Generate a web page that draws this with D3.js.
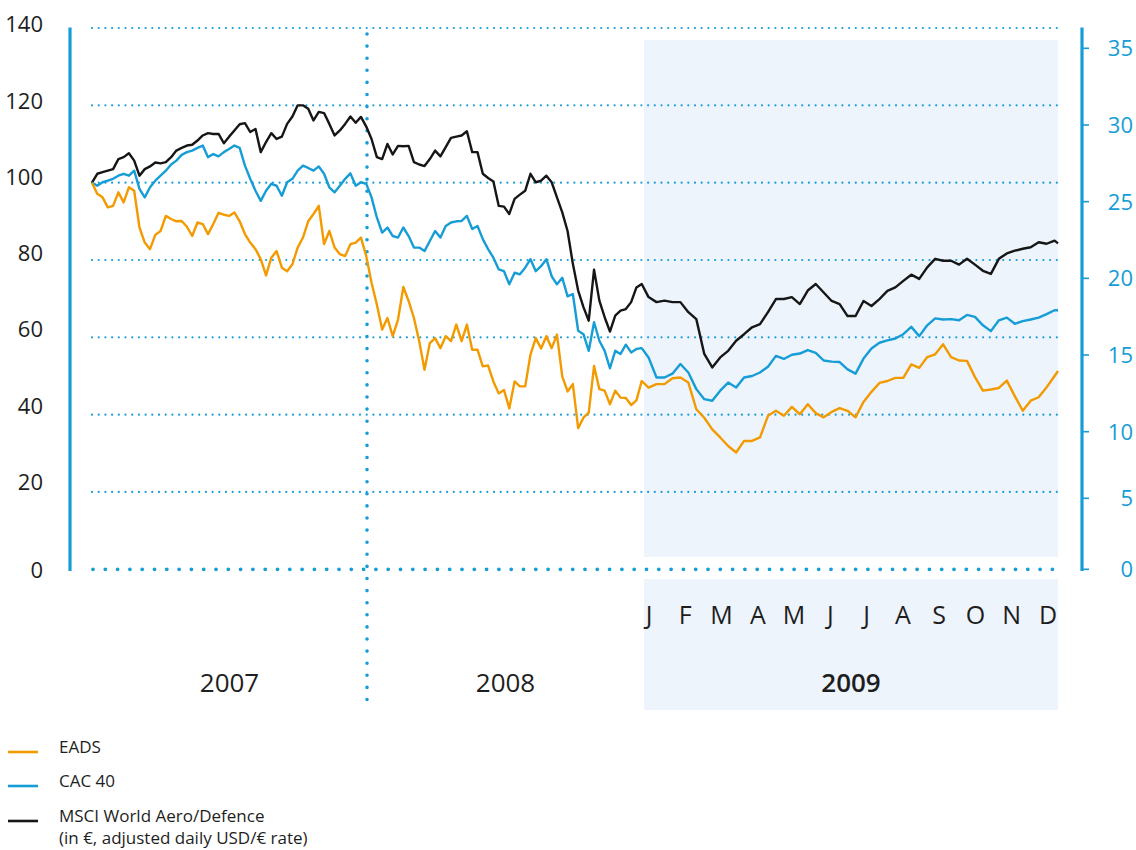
<!DOCTYPE html>
<html>
<head>
<meta charset="utf-8">
<script src="https://cdn.jsdelivr.net/npm/d3@7"></script>
<style>
  html, body { margin: 0; padding: 0; background: #fff; }
  svg { display: block; }
  text { font-family: 'Open Sans', 'Noto Sans', sans-serif; }
</style>
</head>
<body>
<svg id="chart" width="1136" height="850"></svg>
<script>
// ---------- DATA ----------
// weekly observations from 2007-01-01, plus the last trading day of 2009
const seriesStart = "2007-01-01";
const seriesEnd = "2009-12-31";

const msciValues = [
  100, 102.3, 102.7, 103.1, 103.5, 106.1, 106.6, 107.6, 105.7, 101.8,
  103.5, 104.2, 105.2, 105.0, 105.3, 106.6, 108.3, 109.0, 109.6, 109.8,
  110.9, 112.2, 112.8, 112.6, 112.6, 110.2, 111.9, 113.5, 115.1, 115.4,
  113.1, 113.9, 107.9, 110.5, 112.8, 111.3, 111.9, 115.2, 117.1, 120.0,
  120.0, 119.1, 116.1, 118.3, 118.0, 115.2, 112.2, 113.5, 115.2, 117.1,
  115.5, 117.0, 114.5, 111.3, 106.6, 106.1, 110.0, 107.3, 109.5, 109.4,
  109.5, 105.3, 104.7, 104.3, 106.1, 108.3, 106.8, 109.2, 111.6, 111.9,
  112.2, 113.3, 107.9, 107.9, 102.3, 101.2, 100.3, 94.0, 93.8, 91.9,
  95.8, 96.9, 97.9, 102.3, 100.1, 100.5, 101.8, 100.1, 96.2, 92.3,
  87.5, 79.0, 72.1, 67.8, 64.3, 77.5, 69.5, 65.2, 61.5, 65.6,
  66.9, 67.3, 69.1, 72.9, 73.8, 70.4, 69.1, 69.5, 69.1, 69.1,
  66.5, 64.7, 55.7, 52.2, 54.8, 56.5, 59.1, 60.8, 62.6, 63.4,
  66.5, 69.9, 69.9, 70.4, 68.6, 72.1, 73.8, 71.6, 69.4, 68.6,
  65.5, 65.5, 69.4, 68.1, 69.9, 72.0, 72.9, 74.6, 76.2, 75.1,
  78.1, 80.3, 79.8, 79.8, 78.8, 80.3, 78.8, 77.2, 76.4, 80.3,
  81.7, 82.4, 82.9, 83.3, 84.6, 84.2, 85.0,
  84.3
];

const cacValues = [
  100, 99.2, 100.1, 100.5, 101.0, 101.8, 102.3, 101.8, 103.1, 98.4,
  96.2, 98.8, 100.5, 101.8, 103.1, 104.7, 105.7, 107.2, 107.9, 108.3,
  109.0, 109.6, 106.6, 107.4, 106.8, 107.9, 108.7, 109.6, 109.0, 104.4,
  101.0, 97.9, 95.3, 97.9, 99.7, 99.2, 96.6, 100.1, 101.0, 103.1,
  104.4, 103.8, 103.1, 104.2, 102.3, 98.8, 97.5, 99.2, 101.0, 102.4,
  99.2, 100.1, 99.7, 96.2, 91.0, 87.1, 88.4, 86.2, 85.8, 88.4,
  86.2, 83.2, 83.2, 82.3, 84.9, 87.5, 85.8, 88.8, 89.7, 90.0,
  90.1, 91.4, 88.0, 88.8, 85.4, 82.8, 80.6, 77.6, 77.1, 73.7,
  76.7, 76.3, 78.0, 80.2, 77.1, 78.4, 80.2, 75.8, 73.7, 75.4,
  70.6, 71.2, 61.7, 60.8, 56.5, 63.9, 59.1, 56.5, 52.0, 56.5,
  55.7, 58.1, 56.1, 57.0, 57.2, 54.8, 49.6, 49.6, 50.6, 53.1,
  50.9, 46.6, 44.0, 43.6, 46.2, 48.3, 47.0, 49.6, 50.0, 50.9,
  52.4, 55.2, 54.4, 55.5, 55.8, 56.7, 56.0, 54.0, 53.7, 53.6,
  51.7, 50.6, 54.5, 57.1, 58.6, 59.2, 59.7, 60.8, 62.7, 60.3,
  63.1, 64.9, 64.6, 64.7, 64.4, 65.8, 65.3, 63.1, 61.6, 64.4,
  65.1, 63.5, 64.2, 64.6, 65.1, 66.0, 67.0,
  67.0
];

const eadsValues = [
  100, 97.1, 96.2, 93.6, 94.0, 97.5, 94.9, 98.8, 97.9, 88.4,
  84.5, 82.8, 86.5, 87.5, 91.4, 90.6, 90.0, 90.1, 88.6, 86.2,
  89.7, 89.3, 86.7, 89.3, 92.2, 91.7, 91.4, 92.3, 90.0, 86.7,
  84.5, 82.8, 80.2, 76.0, 80.6, 82.3, 78.0, 77.1, 78.9, 83.2,
  85.8, 90.0, 91.9, 94.0, 84.1, 87.5, 83.2, 81.5, 81.0, 84.1,
  84.5, 85.8, 81.0, 74.1, 68.5, 62.0, 65.0, 60.3, 64.6, 73.0,
  69.4, 65.0, 59.0, 51.6, 58.5, 59.8, 57.2, 60.3, 59.0, 63.3,
  59.0, 63.3, 56.8, 56.8, 52.5, 52.7, 48.6, 45.5, 46.4, 41.6,
  48.6, 47.3, 47.3, 55.5, 59.8, 57.1, 60.3, 57.2, 60.7, 49.9,
  46.0, 47.9, 36.5, 39.2, 40.5, 52.6, 46.6, 46.2, 42.7, 46.2,
  44.4, 44.3, 42.5, 43.7, 48.7, 47.0, 47.9, 47.9, 49.4, 49.6,
  48.3, 41.4, 39.2, 36.2, 34.1, 31.9, 30.2, 33.2, 33.2, 34.1,
  39.7, 41.0, 39.7, 42.0, 40.1, 42.7, 40.4, 39.3, 40.7, 41.7,
  41.0, 39.3, 43.3, 45.9, 48.2, 48.7, 49.5, 49.5, 53.0, 52.1,
  54.9, 55.6, 58.2, 54.9, 54.0, 53.9, 49.7, 46.2, 46.5, 46.9,
  48.8, 44.8, 41.0, 43.6, 44.5, 47.1, 50.0,
  51.3
];

const leftTicks = [0, 20, 40, 60, 80, 100, 120, 140];
const rightTicks = [0, 5, 10, 15, 20, 25, 30, 35];
const yearBreaks = ["2007-01-01", "2008-01-01", "2009-01-01", "2009-12-31"];
const yearLabels = ["2007", "2008", "2009"];
const monthLabels = ["J", "F", "M", "A", "M", "J", "J", "A", "S", "O", "N", "D"];
const legendNames = ["EADS", "CAC 40", "MSCI World Aero/Defence"];
const legendNote = "(in €, adjusted daily USD/€ rate)";

// ---------- SETUP ----------
const parse = d3.timeParse("%Y-%m-%d");
const t0 = parse(seriesStart);
const dates = msciValues.slice(0, -1).map((_, k) => d3.timeDay.offset(t0, 7 * k));
dates.push(parse(seriesEnd));

const BLUE = "#169dd6", ORANGE = "#f39a00", BLACK = "#161616", SHADE = "#edf4fc";

const svg = d3.select("#chart");
svg.append("rect").attr("width", 1136).attr("height", 850).attr("fill", "#fff");

const x = d3.scaleTime()
  .domain(yearBreaks.map(parse))
  .range([92, 367, 644, 1058]);
const y = d3.scaleLinear().domain([0, 140]).range([569.3, 28]);
// left labels sit slightly above their grid lines
const yLab = d3.scaleLinear().domain([0, 20, 140]).range([570, 482, 24.5]);
// right-hand (EUR) scale
const yR = d3.scaleLinear().domain([0, 5, 10, 35]).range([569.3, 498.3, 431.7, 48.3]);

const x09a = x(parse(yearBreaks[2])), x09b = x(parse(yearBreaks[3]));

// shaded 2009 panels
svg.append("rect").attr("x", x09a).attr("y", 40).attr("width", x09b - x09a).attr("height", 517).attr("fill", SHADE);
svg.append("rect").attr("x", x09a).attr("y", 579).attr("width", x09b - x09a).attr("height", 131).attr("fill", SHADE);

// grid lines
const gx0 = x(parse(yearBreaks[0]));
svg.append("g").selectAll("line").data(leftTicks.filter(d => d > 0)).join("line")
  .attr("x1", gx0).attr("x2", x09b)
  .attr("y1", d => y(d)).attr("y2", d => y(d))
  .attr("stroke", BLUE).attr("stroke-width", 2.2)
  .attr("stroke-linecap", "round").attr("stroke-dasharray", "0,6.7");
svg.append("line")
  .attr("x1", gx0 + 1).attr("x2", x09b).attr("y1", y(0)).attr("y2", y(0))
  .attr("stroke", BLUE).attr("stroke-width", 3.8)
  .attr("stroke-linecap", "round").attr("stroke-dasharray", "0,12.3");

// 2007/2008 divider
const xDiv = x(parse(yearBreaks[1]));
svg.append("line")
  .attr("x1", xDiv).attr("x2", xDiv).attr("y1", 34).attr("y2", 709)
  .attr("stroke", BLUE).attr("stroke-width", 3.6)
  .attr("stroke-linecap", "round").attr("stroke-dasharray", "0,12.1");

// axes bars
svg.append("line").attr("x1", 70).attr("x2", 70).attr("y1", 27.5).attr("y2", 571)
  .attr("stroke", BLUE).attr("stroke-width", 3.2);
svg.append("line").attr("x1", 1082).attr("x2", 1082).attr("y1", 27.5).attr("y2", 571)
  .attr("stroke", BLUE).attr("stroke-width", 3.2);
svg.append("g").selectAll("line").data(rightTicks).join("line")
  .attr("x1", 1082).attr("x2", 1089)
  .attr("y1", d => yR(d)).attr("y2", d => yR(d))
  .attr("stroke", BLUE).attr("stroke-width", 1.6);

// left labels
svg.append("g").selectAll("text").data(leftTicks).join("text")
  .attr("x", 43).attr("y", d => yLab(d)).attr("dy", "0.36em")
  .attr("text-anchor", "end").attr("font-size", 22).attr("fill", "#1e1e1e")
  .text(d => d);
// right labels
svg.append("g").selectAll("text").data(rightTicks).join("text")
  .attr("x", 1133).attr("y", d => yR(d)).attr("dy", "0.36em")
  .attr("text-anchor", "end").attr("font-size", 22).attr("fill", BLUE)
  .text(d => d);

// lines
const line = d3.line().x((d, i) => x(dates[i])).y(d => y(d));
[[msciValues, BLACK], [cacValues, BLUE], [eadsValues, ORANGE]].forEach(([vals, col]) => {
  svg.append("path").datum(vals).attr("d", line)
    .attr("fill", "none").attr("stroke", col).attr("stroke-width", 2.4)
    .attr("stroke-linejoin", "round");
});

// month labels for 2009
const xm = d3.scalePoint().domain(d3.range(12)).range([x09a + 5, x09b - 10]);
svg.append("g").selectAll("text").data(monthLabels).join("text")
  .attr("x", (d, i) => xm(i)).attr("y", 624)
  .attr("text-anchor", "middle").attr("font-size", 25).attr("fill", "#1e1e1e")
  .text(d => d);

// year labels
const yearMid = yearLabels.map((d, i) => {
  const a = x(parse(yearBreaks[i])), b = x(parse(yearBreaks[i + 1]));
  return (a + b) / 2;
});
svg.append("g").selectAll("text").data(yearLabels).join("text")
  .attr("x", (d, i) => yearMid[i]).attr("y", 692)
  .attr("text-anchor", "middle").attr("font-size", 26)
  .attr("font-weight", (d, i) => i === 2 ? 600 : 400)
  .attr("fill", "#1e1e1e")
  .text(d => d);

// legend
const legColors = [ORANGE, BLUE, BLACK];
const legY = [752, 786, 821];
const lg = svg.append("g");
legendNames.forEach((n, i) => {
  lg.append("line").attr("x1", 8).attr("x2", 38).attr("y1", legY[i]).attr("y2", legY[i])
    .attr("stroke", legColors[i]).attr("stroke-width", 2.6);
  lg.append("text").attr("x", 59).attr("y", legY[i] + 1).attr("font-size", 17).attr("fill", "#1e1e1e").text(n);
});
lg.append("text").attr("x", 59).attr("y", 844).attr("font-size", 17).attr("fill", "#1e1e1e").text(legendNote);
</script>
</body>
</html>
